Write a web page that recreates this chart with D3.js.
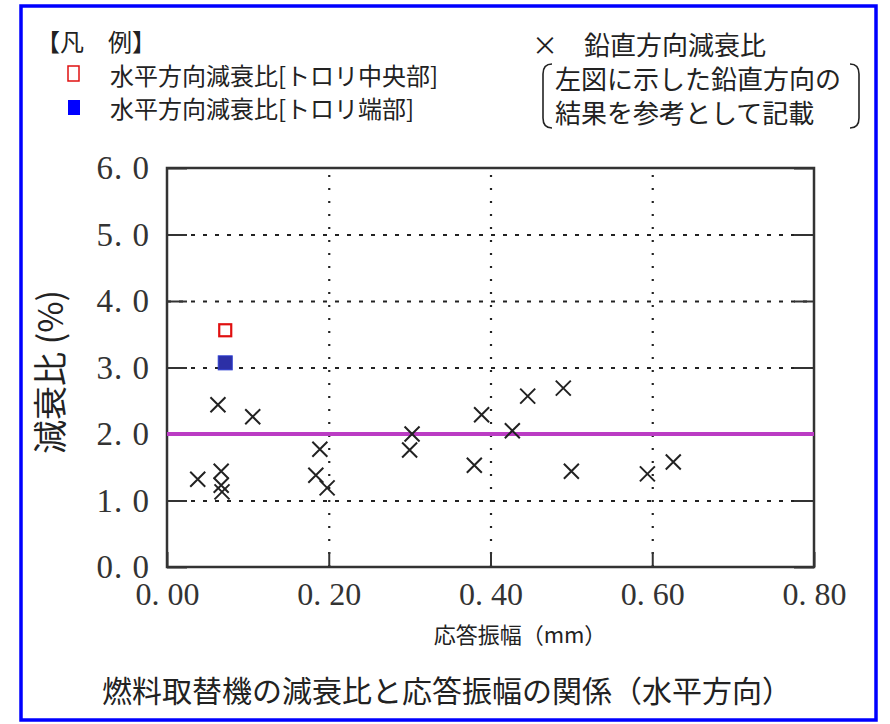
<!DOCTYPE html>
<html>
<head>
<meta charset="utf-8">
<script src="https://cdn.jsdelivr.net/npm/d3@7"></script>
<style>
  html, body { margin: 0; padding: 0; background: #fff; }
  svg { display: block; }
  .jp { font-family: 'Noto Sans CJK JP', sans-serif; fill: #222; }
  .num { font-family: 'Liberation Serif', serif; fill: #333; }
</style>
</head>
<body>
<div id="chart"></div>
<script>
// tick values
const xTicks = [0, 0.2, 0.4, 0.6, 0.8]
const yTicks = [0, 1, 2, 3, 4, 5, 6]

// × 鉛直方向減衰比 (amplitude mm, damping %)
const vertAmp = [0.038, 0.063, 0.067, 0.067, 0.068, 0.106, 0.184, 0.189, 0.198, 0.300, 0.303, 0.380, 0.389, 0.427, 0.446, 0.490, 0.500, 0.594, 0.626]
const vertDamp = [1.32, 2.44, 1.44, 1.23, 1.13, 2.26, 1.38, 1.77, 1.19, 1.76, 2.00, 1.53, 2.29, 2.05, 2.57, 2.69, 1.44, 1.40, 1.58]

// 水平方向減衰比 [トロリ中央部] / [トロリ端部]
const centerAmp = [0.072]
const centerDamp = [3.56]
const endAmp = [0.072]
const endDamp = [3.07]

// reference line (%)
const refDamp = 2.0

const W = 890
const H = 724
const margin = { top: 168, right: 76, bottom: 157, left: 167 }
const width = W - margin.left - margin.right
const height = H - margin.top - margin.bottom

const root = d3.select('#chart').append('svg')
  .attr('width', W)
  .attr('height', H)

// blue outer frame
root.append('rect')
  .attr('x', 21).attr('y', 6)
  .attr('width', 855).attr('height', 714)
  .attr('fill', 'none')
  .attr('stroke', '#0000ff')
  .attr('stroke-width', 3.5)

const svg = root.append('g')
  .attr('transform', `translate(${margin.left},${margin.top})`)

const x = d3.scaleLinear().domain([0, 0.8]).range([0, width])
const y = d3.scaleLinear().domain([0, 6]).range([height, 0])

// dotted grid
svg.append('g')
  .call(d3.axisLeft(y).tickValues(yTicks.slice(1, -1)).tickSize(-width).tickFormat(''))
  .call(g => g.select('.domain').remove())
  .selectAll('line')
  .attr('stroke', '#222')
  .attr('stroke-width', 2.2)
  .attr('stroke-dasharray', '4,8')

svg.append('g')
  .attr('transform', `translate(0,${height})`)
  .call(d3.axisBottom(x).tickValues(xTicks.slice(1, -1)).tickSize(-height).tickFormat(''))
  .call(g => g.select('.domain').remove())
  .selectAll('line')
  .attr('stroke', '#222')
  .attr('stroke-width', 2.2)
  .attr('stroke-dasharray', '2,11')

// short solid inner ticks on all sides
const tickStyle = g => {
  g.select('.domain').remove()
  g.selectAll('line').attr('stroke', '#333').attr('stroke-width', 2)
}
svg.append('g')
  .call(d3.axisLeft(y).tickValues(yTicks).tickSize(-20).tickFormat(''))
  .call(tickStyle)
svg.append('g')
  .attr('transform', `translate(${width},0)`)
  .call(d3.axisRight(y).tickValues(yTicks).tickSize(-20).tickFormat(''))
  .call(tickStyle)
svg.append('g')
  .attr('transform', `translate(0,${height})`)
  .call(d3.axisBottom(x).tickValues(xTicks).tickSize(-15).tickFormat(''))
  .call(tickStyle)

// plot frame
svg.append('rect')
  .attr('width', width).attr('height', height)
  .attr('fill', 'none')
  .attr('stroke', '#333')
  .attr('stroke-width', 2.5)

// tick labels
svg.append('g')
  .call(d3.axisLeft(y).tickValues(yTicks).tickSize(0).tickPadding(17)
    .tickFormat(d => d.toFixed(1).replace('.', '. ')))
  .call(g => g.select('.domain').remove())
  .selectAll('text')
  .attr('class', 'num')
  .attr('font-size', 33)
  .attr('letter-spacing', 1)
  .attr('fill', '#333')

svg.append('g')
  .attr('transform', `translate(0,${height})`)
  .call(d3.axisBottom(x).tickValues(xTicks).tickSize(0).tickPadding(15)
    .tickFormat(d => d.toFixed(2).replace('.', '. ')))
  .call(g => g.select('.domain').remove())
  .selectAll('text')
  .attr('class', 'num')
  .attr('font-size', 32)
  .attr('fill', '#333')

// reference line
svg.append('line')
  .attr('x1', x(0)).attr('x2', x(0.8))
  .attr('y1', y(refDamp)).attr('y2', y(refDamp))
  .attr('stroke', '#bb3cc4')
  .attr('stroke-width', 4)

// vertical damping crosses
const cross = 7.5
svg.append('g')
  .selectAll('path')
  .data(vertAmp.map((a, i) => [a, vertDamp[i]]))
  .join('path')
  .attr('d', d => {
    const cx = x(d[0])
    const cy = y(d[1])
    return `M${cx - cross},${cy - cross}L${cx + cross},${cy + cross}M${cx - cross},${cy + cross}L${cx + cross},${cy - cross}`
  })
  .attr('stroke', '#222')
  .attr('stroke-width', 2)

// horizontal damping squares
svg.selectAll('rect.center')
  .data(centerAmp.map((a, i) => [a, centerDamp[i]]))
  .join('rect')
  .attr('class', 'center')
  .attr('x', d => x(d[0]) - 6).attr('y', d => y(d[1]) - 6)
  .attr('width', 12).attr('height', 12)
  .attr('fill', '#fff')
  .attr('stroke', '#e01010')
  .attr('stroke-width', 2.2)

svg.selectAll('rect.end')
  .data(endAmp.map((a, i) => [a, endDamp[i]]))
  .join('rect')
  .attr('class', 'end')
  .attr('x', d => x(d[0]) - 7).attr('y', d => y(d[1]) - 7)
  .attr('width', 14).attr('height', 14)
  .attr('fill', '#2c2fa6')
  .attr('stroke', '#2a3bd0')
  .attr('stroke-width', 1)

// axis titles
root.append('text')
  .attr('class', 'jp')
  .attr('transform', 'translate(63,372) rotate(-90)')
  .attr('text-anchor', 'middle')
  .attr('font-size', 34)
  .text('減衰比 (%)')

root.append('text')
  .attr('class', 'jp')
  .attr('x', 520).attr('y', 643)
  .attr('text-anchor', 'middle')
  .attr('font-size', 22)
  .text('応答振幅（mm）')

root.append('text')
  .attr('class', 'jp')
  .attr('x', 447).attr('y', 702)
  .attr('text-anchor', 'middle')
  .attr('font-size', 30)
  .text('燃料取替機の減衰比と応答振幅の関係（水平方向）')

// legend
const lg = root.append('g').attr('class', 'jp').attr('font-size', 24)
lg.append('text').attr('x', 36).attr('y', 51).text('【凡　例】')
lg.append('rect').attr('x', 68).attr('y', 66).attr('width', 11).attr('height', 15)
  .attr('fill', '#fff').attr('stroke', '#e01010').attr('stroke-width', 1.5)
lg.append('text').attr('x', 110).attr('y', 85).text('水平方向減衰比[トロリ中央部]')
lg.append('rect').attr('x', 68).attr('y', 100).attr('width', 12).attr('height', 15)
  .attr('fill', '#0000ff')
lg.append('text').attr('x', 110).attr('y', 118).text('水平方向減衰比[トロリ端部]')

const lr = root.append('g').attr('class', 'jp').attr('font-size', 26)
lr.append('text').attr('x', 532).attr('y', 55).text('×')
lr.append('text').attr('x', 584).attr('y', 55).text('鉛直方向減衰比')
lr.append('text').attr('x', 555).attr('y', 89).text('左図に示した鉛直方向の')
lr.append('text').attr('x', 555).attr('y', 123).text('結果を参考として記載')
lr.append('path')
  .attr('d', 'M552,64 Q543,64 543,74 L543,118 Q543,128 552,128')
  .attr('fill', 'none').attr('stroke', '#222').attr('stroke-width', 1.6)
lr.append('path')
  .attr('d', 'M850,64 Q859,64 859,74 L859,118 Q859,128 850,128')
  .attr('fill', 'none').attr('stroke', '#222').attr('stroke-width', 1.6)
</script>
</body>
</html>
